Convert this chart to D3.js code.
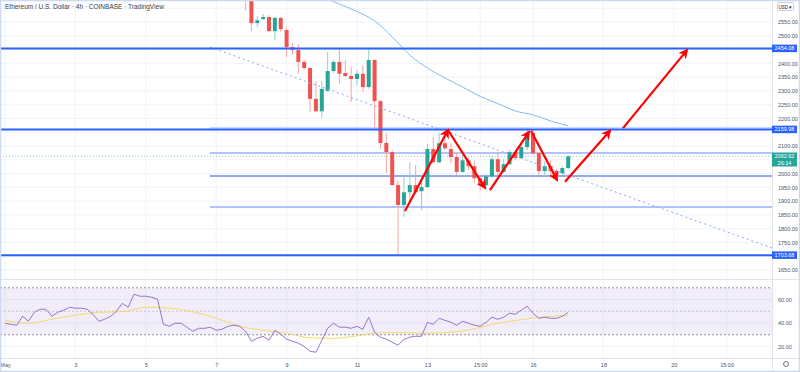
<!DOCTYPE html>
<html>
<head>
<meta charset="utf-8">
<script src="https://cdn.jsdelivr.net/npm/d3@7"></script>
<style>
body { margin: 0; background: #fff; }
svg { display: block; font-family: "Liberation Sans", Arial, sans-serif; }
</style>
</head>
<body>
<div id="chart"></div>
<script>
// 4h candles, first one at May 7 20:00 (days counted from May 1 = 1)
const startDay = 7 + 20 / 24;
const opens = [2693,2642,2546,2561,2568,2517,2565,2521,2459,2448, 2405,2383,2271,2226,2300,2372,2405,2365,2354,2343,
  2362,2314,2412,2263,2111,2078,1958,1886,1932,1958, 1936,1951,2089,2041,2110,2089,2060,2006,2048,2027,
  1983,1958,1990,2052,2006,2034,2078,2056,2096,2147, 2074,2009,2027,2009,2002,2020];
const highs = [2713,2652,2572,2579,2575,2568,2567,2531,2473,2470, 2412,2385,2336,2336,2441,2412,2456,2412,2387,2376,
  2394,2456,2415,2266,2147,2085,1973,1995,2041,2031, 1987,2108,2133,2147,2147,2110,2074,2066,2056,2048,
  1990,1998,2063,2078,2052,2085,2085,2110,2168,2158, 2078,2045,2048,2016,2027,2066];
const lows = [2593,2517,2531,2557,2514,2485,2514,2423,2430,2362, 2376,2223,2223,2202,2297,2365,2325,2351,2260,2321,
  2296,2307,2166,2089,2002,1956,1703.68,1843,1897,1925, 1868,1947,2038,2038,2085,2038,1995,2002,2013,1965,
  1937,1940,1983,1995,2002,2031,2048,2056,2085,2066, 1995,1987,1983,1980,1995,2016];
const closes = [2652,2546,2556,2568,2517,2565,2524,2459,2448,2405, 2383,2271,2226,2307,2372,2405,2362,2354,2343,2362,
  2314,2412,2263,2111,2078,1958,1886,1932,1958,1932, 1951,2089,2041,2110,2092,2060,2006,2048,2027,1983,
  1958,1990,2052,2006,2034,2078,2056,2096,2147,2074, 2009,2027,2009,1995,2020,2062.62];

// moving average on price, read every 3 candles (candle index)
const maIndex = [13,16,19,22,25,28,31,34,37,40,43,46,49,52,55];
const maValues = [2642,2615,2588,2554,2496,2430,2383,2347,2314,2280,2254,2227,2213,2191,2173];

// RSI, one value per candle, starting 41 candles before the first drawn candle
const rsiOffset = -41;
const rsiValues = [39.8,38.9,38.1,45.7,41.5,49.1,51.7,51.7,45.7,49.1, 50.9,53.4,52.6,52.6,51.7,47.4,41.5,43.2,45.7,50.0,
  56.8,53.4,64.5,62.8,62.8,61.9,60.2,38.9,37.2,39.8, 39.8,36.4,33.0,35.5,35.5,36.4,33.8,34.7,37.2,38.1, 37.2,
  33.0,24.5,27.0,28.7,25.3,33.8,30.4,26.2,24.5,22.8, 20.0,16.0,15.1,25.3,35.5,39.8,36.4,36.4,35.5,37.2,
  34.7,44.9,32.1,27.9,26.2,23.6,21.1,26.2,27.9,28.7, 28.7,40.6,38.9,44.0,42.3,40.6,38.1,41.5,39.8,38.1,
  37.2,40.6,44.9,43.2,44.9,48.3,47.4,50.9,54.3,48.3, 44.0,44.9,44.0,44.0,45.7,49.1];
// RSI moving average, every 4 candles from index -41
const rsiMaValues = [42.3,39.8,43.2,46.6,49.1,49.6,53.4,52.6,49.6,44.0,37.2,33.8,31.3,27.4,27.0,29.1,31.7,31.7,31.3,32.1,35.1,39.8,42.8,45.3,46.6];

// drawn levels
const keyLevels = [2454.08, 2159.98, 1703.68];
const zoneLevels = [2166, 2075, 1879];
const supportLevel = 1991;
const zoneStartDay = 6.82;
const trendLine = [[6.82, 2459], [22.79, 1730]];

// arrows [fromDay, fromPrice, toDay, toPrice]
const arrows = [
  [12.364, 1864, 13.585, 2158],
  [13.585, 2158, 14.636, 1948],
  [14.778, 1940, 15.886, 2151],
  [15.943, 2155, 16.682, 1977],
  [16.909, 1970, 18.188, 2155],
  [18.557, 2165, 20.375, 2448]
];

// axis ticks
const tickDays = [1, 3, 5, 7, 9, 11, 13, 14.5, 16, 18, 20, 21.5];
const tickLabels = ["May", "3", "5", "7", "9", "11", "13", "15:00", "16", "18", "20", "15:00"];
const priceTicks = [2550,2500,2400,2350,2300,2250,2200,2100,2000,1950,1900,1850,1800,1750,1650];
const rsiTicks = [60, 40, 20];

const W = 800, H = 372;
const plotRight = 772;
const priceBottom = 279, rsiTop = 280, rsiBottom = 358;
const up = "#26a69a", down = "#ef5350";

const svg = d3.select("#chart").append("svg").attr("width", W).attr("height", H);

const x = d3.scaleLinear().domain([1, 23]).range([5, 5 + 22 * 35.2]);
const y = d3.scaleLinear().domain([1650, 2550]).range([270, 22]);
const yRsi = d3.scaleLinear().domain([20, 60]).range([346.5, 299.5]);
const dayOf = i => startDay + i / 6;

const defs = svg.append("defs");
defs.append("clipPath").attr("id", "clipPrice").append("rect")
  .attr("x", 0).attr("y", 0).attr("width", plotRight).attr("height", priceBottom);
defs.append("clipPath").attr("id", "clipRsi").append("rect")
  .attr("x", 0).attr("y", rsiTop).attr("width", plotRight).attr("height", rsiBottom - rsiTop);
defs.append("marker").attr("id", "head")
  .attr("viewBox", "0 0 10 10").attr("refX", 8).attr("refY", 5)
  .attr("markerWidth", 10).attr("markerHeight", 10).attr("markerUnits", "userSpaceOnUse")
  .attr("orient", "auto")
  .append("path").attr("d", "M0,0 L10,5 L0,10 L3,5 Z").attr("fill", "#ff0000");

// grid
const grid = svg.append("g");
d3.range(1650, 2650, 50).forEach(v => {
  grid.append("line").attr("x1", 0).attr("x2", plotRight).attr("y1", y(v)).attr("y2", y(v))
    .attr("stroke", "#f0f3fa");
});
rsiTicks.forEach(v => {
  grid.append("line").attr("x1", 0).attr("x2", plotRight).attr("y1", yRsi(v)).attr("y2", yRsi(v))
    .attr("stroke", "#f0f3fa");
});
tickDays.forEach(d => {
  grid.append("line").attr("x1", x(d)).attr("x2", x(d)).attr("y1", 0).attr("y2", rsiBottom)
    .attr("stroke", "#f0f3fa");
});
svg.append("line").attr("x1", 0).attr("x2", W).attr("y1", priceBottom + 0.5).attr("y2", priceBottom + 0.5)
  .attr("stroke", "#e0e3eb");
svg.append("line").attr("x1", 0).attr("x2", W).attr("y1", rsiBottom + 0.5).attr("y2", rsiBottom + 0.5)
  .attr("stroke", "#e0e3eb");
svg.append("line").attr("x1", plotRight + 0.5).attr("x2", plotRight + 0.5).attr("y1", 0).attr("y2", H)
  .attr("stroke", "#e0e3eb");

// price pane
const price = svg.append("g").attr("clip-path", "url(#clipPrice)");

// horizontal zones from May 7
zoneLevels.forEach(v => {
  price.append("line").attr("x1", x(zoneStartDay)).attr("x2", plotRight).attr("y1", y(v)).attr("y2", y(v))
    .attr("stroke", "#b3c3fa").attr("stroke-width", v === 2166 ? 1 : 2);
});
price.append("line").attr("x1", x(zoneStartDay)).attr("x2", plotRight)
  .attr("y1", y(supportLevel)).attr("y2", y(supportLevel))
  .attr("stroke", "#6d8cf4").attr("stroke-width", 1.5);

// last price dotted line
price.append("line").attr("x1", 0).attr("x2", plotRight)
  .attr("y1", y(closes[closes.length - 1])).attr("y2", y(closes[closes.length - 1]))
  .attr("stroke", up).attr("stroke-opacity", 0.5).attr("stroke-dasharray", "1,2");

// candles
const candles = opens.map((o, i) => ({ t: dayOf(i), o: o, h: highs[i], l: lows[i], c: closes[i] }));
const cg = price.selectAll("g.candle").data(candles).enter().append("g").attr("class", "candle");
cg.append("line")
  .attr("x1", d => x(d.t)).attr("x2", d => x(d.t))
  .attr("y1", d => y(d.h)).attr("y2", d => y(d.l))
  .attr("stroke", d => d.c >= d.o ? "#8fd0c8" : "#f6a5a3").attr("stroke-width", 1);
cg.append("rect")
  .attr("x", d => x(d.t) - 2).attr("width", 4)
  .attr("y", d => y(Math.max(d.o, d.c)))
  .attr("height", d => Math.max(1, Math.abs(y(d.o) - y(d.c))))
  .attr("fill", d => d.c >= d.o ? up : down);

// moving average
price.append("path")
  .datum(maIndex.map((k, i) => [dayOf(k), maValues[i]]))
  .attr("fill", "none").attr("stroke", "#7fbdf3").attr("stroke-width", 1)
  .attr("d", d3.line().x(d => x(d[0])).y(d => y(d[1])).curve(d3.curveMonotoneX));

// dashed trend line
price.append("line")
  .attr("x1", x(trendLine[0][0])).attr("y1", y(trendLine[0][1]))
  .attr("x2", x(trendLine[1][0])).attr("y2", y(trendLine[1][1]))
  .attr("stroke", "#8ea6f5").attr("stroke-width", 1).attr("stroke-dasharray", "2,3");

// key levels full width
keyLevels.forEach(v => {
  price.append("line").attr("x1", 0).attr("x2", plotRight).attr("y1", y(v)).attr("y2", y(v))
    .attr("stroke", "#2962ff").attr("stroke-width", 2);
});

// arrows
price.selectAll("line.arrow").data(arrows).enter().append("line").attr("class", "arrow")
  .attr("x1", d => x(d[0])).attr("y1", d => y(d[1]))
  .attr("x2", d => x(d[2])).attr("y2", d => y(d[3]))
  .attr("stroke", "#ff0000").attr("stroke-width", 2.2)
  .attr("marker-end", "url(#head)");

// RSI pane
const rsi = svg.append("g").attr("clip-path", "url(#clipRsi)");
rsi.append("rect").attr("x", 0).attr("width", plotRight)
  .attr("y", yRsi(70)).attr("height", yRsi(30) - yRsi(70))
  .attr("fill", "#7e57c2").attr("fill-opacity", 0.1);
[70, 50, 30].forEach(v => {
  rsi.append("line").attr("x1", 0).attr("x2", plotRight).attr("y1", yRsi(v)).attr("y2", yRsi(v))
    .attr("stroke", "#787b86").attr("stroke-opacity", v === 50 ? 0.35 : 0.8)
    .attr("stroke-dasharray", "2,2");
});
rsi.append("path")
  .datum(rsiMaValues.map((v, i) => [dayOf(rsiOffset + i * 4), v]))
  .attr("fill", "none").attr("stroke", "#f5d96b").attr("stroke-width", 1)
  .attr("d", d3.line().x(d => x(d[0])).y(d => yRsi(d[1])).curve(d3.curveMonotoneX));
rsi.append("path")
  .datum(rsiValues.map((v, i) => [dayOf(rsiOffset + i), v]))
  .attr("fill", "none").attr("stroke", "#9575cd").attr("stroke-width", 1)
  .attr("d", d3.line().x(d => x(d[0])).y(d => yRsi(d[1])));

// right price axis
const pAxis = svg.append("g").attr("transform", `translate(${plotRight + 3},0)`)
  .call(d3.axisRight(y).tickValues(priceTicks).tickFormat(d3.format(".2f")).tickSize(0));
pAxis.select(".domain").remove();
pAxis.selectAll("text").attr("font-size", 5.5).attr("fill", "#50535e").attr("dx", 0);

const rAxis = svg.append("g").attr("transform", `translate(${plotRight + 3},0)`)
  .call(d3.axisRight(yRsi).tickValues(rsiTicks).tickFormat(d3.format(".2f")).tickSize(0));
rAxis.select(".domain").remove();
rAxis.selectAll("text").attr("font-size", 5.5).attr("fill", "#50535e");

// price labels
function priceTag(v, color, lines) {
  const h = lines.length * 6.5 + 1;
  const g = svg.append("g").attr("transform", `translate(${plotRight},${y(v) - 3.8})`);
  g.append("rect").attr("x", 0).attr("y", 0).attr("width", 25).attr("height", h).attr("fill", color);
  lines.forEach((s, i) => {
    g.append("text").attr("x", 12.5).attr("y", 5.5 + i * 6.5).attr("text-anchor", "middle")
      .attr("font-size", 5.5).attr("fill", "#fff").text(s);
  });
}
keyLevels.forEach(v => priceTag(v, "#2962ff", [v.toFixed(2)]));
priceTag(closes[closes.length - 1], up, [closes[closes.length - 1].toFixed(2), "26:14"]);

// currency box
svg.append("rect").attr("x", 777.5).attr("y", 2.5).attr("width", 16).attr("height", 8)
  .attr("fill", "#fff").attr("stroke", "#c9ccd6").attr("rx", 1);
svg.append("text").attr("x", 785.5).attr("y", 8.5).attr("text-anchor", "middle")
  .attr("font-size", 4.5).attr("fill", "#131722").text("USD ▾");

// time axis
const tAxis = svg.append("g").attr("transform", `translate(0,${rsiBottom})`)
  .call(d3.axisBottom(x).tickValues(tickDays).tickFormat((d, i) => tickLabels[i]).tickSize(0));
tAxis.select(".domain").remove();
tAxis.selectAll("text").attr("font-size", 5.5).attr("fill", "#50535e").attr("dy", 6);

// settings gear
svg.append("circle").attr("cx", 786).attr("cy", 364).attr("r", 2.5)
  .attr("fill", "none").attr("stroke", "#50535e").attr("stroke-width", 0.8);

// title
svg.append("text").attr("x", 5).attr("y", 8.5).attr("font-size", 6.5).attr("fill", "#3b3e48")
  .text("Ethereum / U.S. Dollar · 4h · COINBASE · TradingView");

// frame
svg.append("rect").attr("x", 0.5).attr("y", 0.5).attr("width", W - 1).attr("height", H - 1)
  .attr("fill", "none").attr("stroke", "#cdd8f2").attr("stroke-width", 1.5);
</script>
</body>
</html>
